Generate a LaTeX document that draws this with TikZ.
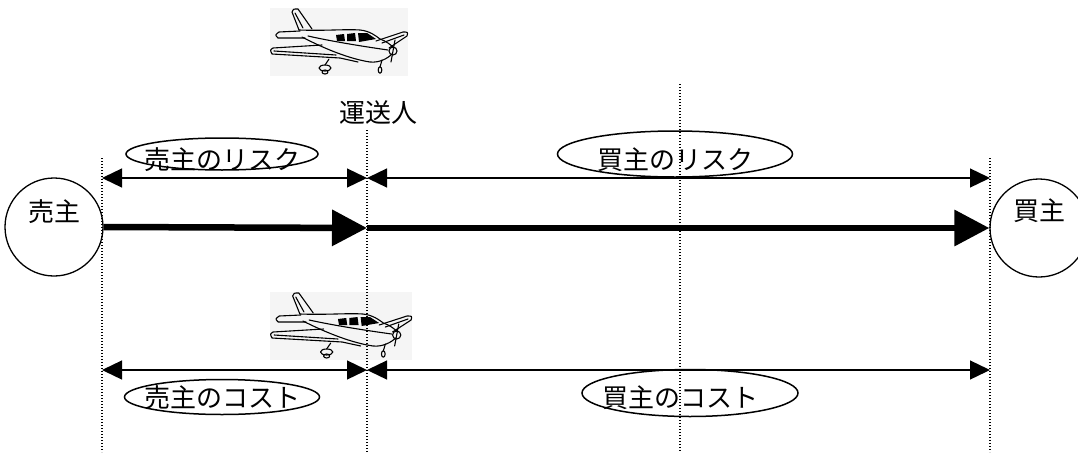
\documentclass[tikz,border=0pt]{standalone}
\usepackage{fontspec}
\newfontfamily\jpfont{Noto Sans CJK JP}
\usepackage{tikz}
\usetikzlibrary{shapes.geometric,arrows.meta,positioning}

% small line-art aeroplane on a grey patch (local units, y pointing down)
\tikzset{
  plane/.pic={
    \fill[gray!8] (0,0) rectangle (138,68);
    \begin{scope}[line width=1.1pt, line join=round, line cap=round]
      % fin
      \draw (29,22) -- (22,4) .. controls (23,1) .. (28,1) -- (42,21);
      \draw (25,5) -- (33,20);
      % tailplane
      \draw (30,23) -- (9,24) .. controls (5,27) .. (8,30) -- (35,30);
      % fuselage
      \draw (29,22) .. controls (55,23) and (75,21) .. (90,22) .. controls (100,23) and (106,28) .. (110,31) .. controls (116,33) and (121,37) .. (124,40);
      \draw (32,29) .. controls (55,41) and (80,51) .. (100,54) .. controls (110,55) and (118,50) .. (122,46);
      \draw (38,28) .. controls (60,33) and (90,38) .. (118,42);
      % windows
      \fill (66,27) -- (74,26) -- (75,33) -- (67,33) -- cycle;
      \fill (77,26) -- (85,25) -- (86,33) -- (77,33) -- cycle;
      \fill (88,25) -- (97,25) -- (106,31) -- (89,34) -- cycle;
      % near wing
      \draw (52,37) -- (3,40) .. controls (0,42) .. (2,46) -- (70,50) -- (88,54);
      \draw (4,43) -- (66,47);
      % far wing
      \draw (106,33) -- (133,24) .. controls (138,24) .. (137,28) -- (119,40);
      \draw (112,35) -- (134,27);
      % spinner and prop
      \draw (123,43) circle (4);
      \draw (125,32) -- (121,54);
      % nose gear
      \draw (112,52) -- (110,59);
      \draw (110,62) ellipse (1.8 and 3.2);
      % main gear
      \draw (59,51) -- (55,57);
      \draw (55,60) ellipse (6 and 3);
      \draw (55,64) ellipse (3 and 2);
    \end{scope}
  }
}

\begin{document}
\begin{tikzpicture}[x=1pt, y=-1pt,
    jp/.style={font=\jpfont\fontsize{26}{30}\selectfont},
    party/.style={circle, draw, line width=1.3pt, minimum size=98pt, inner sep=0pt},
    tag/.style={ellipse, draw, line width=1.5pt, inner sep=0pt},
    span/.style={line width=1.3pt, {Triangle[length=20pt,width=19pt]}-{Triangle[length=20pt,width=19pt]}},
    flow/.style={line width=6.5pt, -{Triangle[length=35pt,width=35pt]}},
    guide/.style={line width=1.3pt, dash pattern=on 1.4pt off 1.6pt}]

    \useasboundingbox (0,0) rectangle (1078,455);

    % Planes
    \pic at (270,8) {plane};
    \pic[xscale=1.03] at (270,292) {plane};
    \node[jp] (carrier) at (378,113) {運送人};

    % Seller and buyer
    \node[party] (seller) at (54,227) {};
    \node[jp] at ([yshift=15pt]seller.center) {売主};
    \node[party] (buyer) at (1039,228) {};
    \node[jp] at ([yshift=17pt]buyer.center) {買主};

    % points on the guides
    \coordinate (hand) at (367,228);
    \coordinate (riskA) at (102,178);
    \coordinate (riskB) at (367,178);
    \coordinate (riskC) at (990,178);
    \coordinate (costA) at (102,370);
    \coordinate (costB) at (367,370);
    \coordinate (costC) at (990,370);

    % Goods flow
    \draw[flow] (seller.east) -- (hand);
    \draw[flow] (hand) -- (buyer.west);

    % Risk
    \draw[span] (riskA) -- (riskB);
    \draw[span] (riskB) -- (riskC);
    \node[tag, minimum width=192pt, minimum height=32pt] (sellerRisk) at (222,154) {};
    \node[jp] at ([yshift=-6pt]sellerRisk.center) {売主のリスク};
    \node[tag, minimum width=235pt, minimum height=46pt] (buyerRisk) at (675,154) {};
    \node[jp] at ([yshift=-6pt]buyerRisk.center) {買主のリスク};

    % Cost
    \draw[span] (costA) -- (costB);
    \draw[span] (costB) -- (costC);
    \node[tag, minimum width=195pt, minimum height=35pt] (sellerCost) at (222,397) {};
    \node[jp] at ([yshift=-1pt]sellerCost.center) {売主のコスト};
    \node[tag, minimum width=216pt, minimum height=47pt] (buyerCost) at (690,393) {};
    \node[jp] at ([xshift=-10pt,yshift=-5pt]buyerCost.center) {買主のコスト};

    % Dotted guides
    \foreach \gx/\gtop in {102/158, 367/130, 680/84, 990/158}
      \draw[guide] (\gx,\gtop) -- (\gx,452);
\end{tikzpicture}
\end{document}
